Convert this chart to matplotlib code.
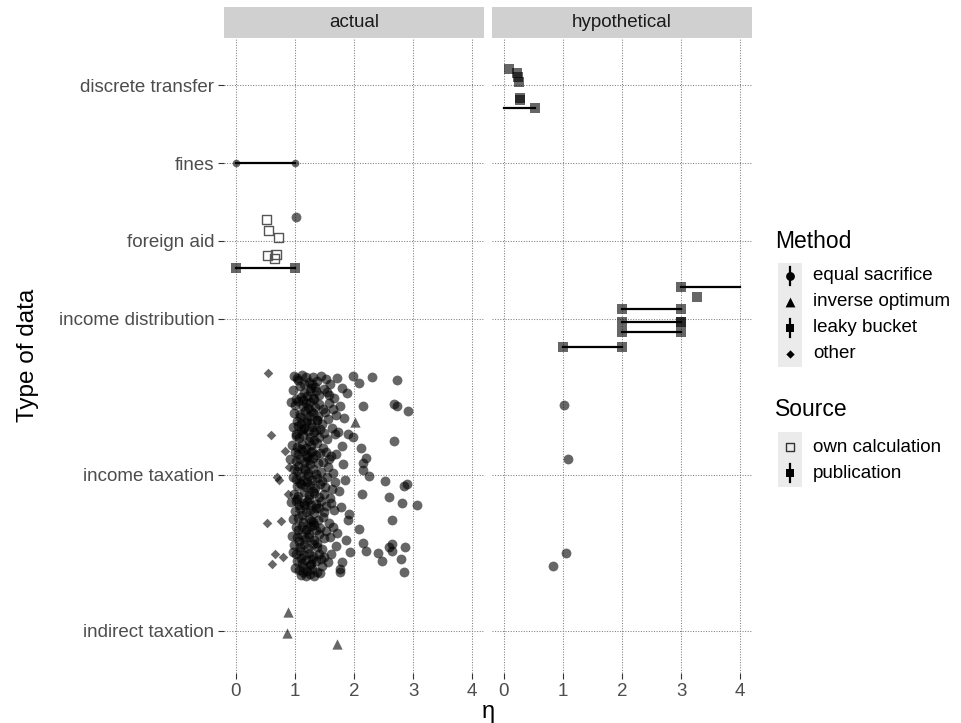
import numpy as np
import matplotlib.pyplot as plt
from matplotlib.patches import Rectangle

plt.rcParams['font.family'] = ['Liberation Sans', 'DejaVu Sans']

# y axis: categories placed on a numeric row scale (gaps as in the original)
categories = ['discrete transfer', 'fines', 'foreign aid', 'income distribution',
              'income taxation', 'indirect taxation']
cat_pos = [1, 2, 3, 4, 6, 8]
eta_ticks = [0, 1, 2, 3, 4]
panels = ['actual', 'hypothetical']

# actual / income taxation / equal sacrifice : dense core (read band by band)
core_eta = [
    0.98, 1.04, 1.12, 1.19, 1.23, 1.31, 1.38, 1.44, 1.52, 1.60, 1.71, 1.80, 0.96, 1.08,
    1.15, 1.27, 1.35, 1.49, 1.57, 1.66, 1.02, 1.10, 1.21, 1.33, 1.41, 1.55, 1.88, 1.29,
    0.93, 1.00, 1.06, 1.13, 1.18, 1.26, 1.34, 1.40, 1.47, 1.58, 1.64, 1.76, 0.99, 1.09,
    1.17, 1.24, 1.30, 1.39, 1.51, 1.69, 1.03, 1.11, 1.20, 1.28, 1.37, 1.45, 1.56, 1.83,
    0.97, 1.05, 1.10, 1.16, 1.22, 1.29, 1.36, 1.43, 1.50, 1.62, 1.73, 1.01, 1.07, 1.14,
    1.25, 1.33, 1.41, 1.54, 1.67, 1.90, 0.95, 1.03, 1.12, 1.19, 1.27, 1.38, 1.47, 1.79,
    1.00, 1.06, 1.13, 1.21, 1.28, 1.35, 1.42, 1.53, 1.61, 1.70, 0.92, 1.02, 1.09, 1.17,
    1.24, 1.31, 1.39, 1.48, 1.58, 1.82, 0.98, 1.04, 1.15, 1.22, 1.30, 1.44, 1.56, 1.65,
    0.96, 1.01, 1.08, 1.14, 1.22, 1.29, 1.37, 1.45, 1.55, 1.68, 1.85, 1.03, 1.11, 1.19,
    1.26, 1.34, 1.42, 1.51, 1.63, 0.99, 1.06, 1.16, 1.24, 1.32, 1.40, 1.49, 1.59, 1.74,
    0.94, 1.02, 1.07, 1.15, 1.21, 1.28, 1.36, 1.44, 1.52, 1.61, 1.78, 1.00, 1.09, 1.18,
    1.25, 1.33, 1.41, 1.50, 1.66, 1.92, 0.97, 1.05, 1.13, 1.23, 1.31, 1.39, 1.47, 1.57,
    1.01, 1.06, 1.12, 1.20, 1.27, 1.35, 1.43, 1.53, 1.64, 1.72, 0.95, 1.03, 1.10, 1.17,
    1.24, 1.32, 1.40, 1.49, 1.59, 1.86, 0.99, 1.08, 1.15, 1.22, 1.30, 1.38, 1.46, 1.70,
    0.97, 1.02, 1.09, 1.16, 1.24, 1.31, 1.40, 1.50, 1.61, 1.04, 1.12, 1.19, 1.27, 1.35,
    1.44, 1.56, 1.00, 1.07, 1.14, 1.21, 1.29, 1.37, 1.46, 1.10, 1.18, 1.26, 1.33, 1.42,
    1.05, 1.16, 1.25, 1.34, 1.13, 1.22, 1.31, 1.08, 1.19, 1.28, 1.37, 1.02, 1.14, 1.23,
    1.33, 1.11, 1.20, 1.29, 1.06, 1.17, 1.26, 1.36, 1.09, 1.21, 1.30, 1.04, 1.15, 1.24,
    1.35, 1.12, 1.27, 1.18, 1.32, 1.07, 1.23, 1.38, 1.10, 1.25, 1.14, 1.29,
]
core_y = [
    4.73, 4.76, 4.72, 4.75, 4.81, 4.74, 4.79, 4.73, 4.77, 4.84, 4.76, 4.88, 4.91, 4.86,
    4.95, 4.89, 4.93, 4.90, 4.98, 5.01, 5.02, 5.00, 4.99, 5.03, 4.97, 4.94, 4.95, 4.84,
    5.07, 5.10, 5.05, 5.12, 5.08, 5.06, 5.13, 5.09, 5.15, 5.08, 5.16, 5.11, 5.20, 5.22,
    5.18, 5.25, 5.21, 5.24, 5.19, 5.23, 5.31, 5.34, 5.29, 5.33, 5.30, 5.35, 5.28, 5.27,
    5.39, 5.37, 5.42, 5.40, 5.44, 5.38, 5.43, 5.41, 5.46, 5.40, 5.45, 5.50, 5.53, 5.49,
    5.52, 5.55, 5.51, 5.54, 5.48, 5.47, 5.61, 5.64, 5.60, 5.66, 5.62, 5.59, 5.65, 5.63,
    5.70, 5.73, 5.69, 5.74, 5.71, 5.75, 5.72, 5.70, 5.76, 5.73, 5.80, 5.82, 5.79, 5.84,
    5.81, 5.78, 5.85, 5.83, 5.80, 5.86, 5.92, 5.95, 5.91, 5.97, 5.93, 5.96, 5.90, 5.98,
    6.03, 6.05, 6.01, 6.07, 6.02, 6.06, 6.04, 6.08, 6.03, 6.09, 6.06, 6.14, 6.12, 6.16,
    6.13, 6.17, 6.11, 6.15, 6.18, 6.24, 6.27, 6.22, 6.26, 6.23, 6.28, 6.25, 6.30, 6.21,
    6.35, 6.33, 6.38, 6.36, 6.34, 6.39, 6.37, 6.34, 6.40, 6.36, 6.41, 6.46, 6.44, 6.48,
    6.45, 6.49, 6.43, 6.47, 6.45, 6.50, 6.57, 6.55, 6.60, 6.56, 6.61, 6.58, 6.54, 6.62,
    6.67, 6.70, 6.65, 6.69, 6.66, 6.71, 6.68, 6.72, 6.67, 6.74, 6.78, 6.80, 6.77, 6.82,
    6.79, 6.83, 6.76, 6.81, 6.79, 6.84, 6.90, 6.93, 6.88, 6.94, 6.89, 6.92, 6.95, 6.91,
    6.99, 7.02, 6.98, 7.03, 7.00, 7.04, 7.01, 7.05, 7.02, 7.10, 7.13, 7.09, 7.14, 7.11,
    7.08, 7.12, 7.19, 7.22, 7.18, 7.23, 7.20, 7.24, 7.17, 7.28, 7.30, 7.27, 7.29, 7.26,
    4.78, 4.84, 4.92, 4.87, 5.04, 5.14, 5.01, 5.26, 5.32, 5.18, 5.29, 5.47, 5.41, 5.57,
    5.45, 5.67, 5.77, 5.69, 5.88, 5.94, 5.86, 5.99, 6.10, 6.09, 6.20, 6.31, 6.39, 6.31,
    6.42, 6.52, 6.59, 6.71, 6.64, 6.85, 6.76, 6.87, 7.07, 7.16, 7.25, 7.08,
]

# actual / income taxation / equal sacrifice : outer points
es_eta = [1.98, 2.09, 2.31, 2.72, 2.15, 2.67, 2.72, 2.91, 1.99, 2.67, 2.11, 2.21,
          2.16, 2.16, 2.26, 2.53, 2.89, 2.84, 2.13, 2.60, 2.82, 3.07, 2.64, 2.09,
          1.89, 2.16, 2.20, 2.65, 2.60, 2.65, 2.87, 2.40, 2.48, 2.79, 2.84, 1.93,
          1.79, 1.76, 1.77]
es_y = [4.73, 4.82, 4.74, 4.78, 5.12, 5.09, 5.12, 5.18, 5.51, 5.56, 5.65, 5.78,
        5.85, 5.94, 6.02, 6.08, 6.12, 6.14, 6.24, 6.28, 6.36, 6.38, 6.58, 6.69,
        6.58, 6.87, 6.97, 6.88, 6.92, 6.97, 6.92, 7.00, 7.10, 7.08, 7.24, 6.99,
        7.12, 7.21, 7.24]

# actual / income taxation / other
oth_eta = [0.54, 0.59, 0.83, 0.90, 0.69, 0.73, 0.88, 0.52, 0.76, 0.66, 0.79, 0.62]
oth_y = [4.69, 5.49, 5.69, 5.90, 6.03, 6.06, 6.24, 6.62, 6.59, 7.01, 7.05, 7.14]

# actual / inverse optimum (income + indirect taxation)
io_eta = [2.01, 0.88, 0.86, 1.71]
io_y = [5.32, 7.76, 8.03, 8.17]

# actual / foreign aid
fa_es_eta = [1.01]
fa_es_y = [2.69]
own_eta = [0.52, 0.56, 0.73, 0.54, 0.68, 0.66]
own_y = [2.73, 2.87, 2.95, 3.18, 3.17, 3.22]

# ranges: (panel, low, high, y, shape, draw low end, draw high end)
ranges = [
    ('actual', 0.0, 1.0, 2.00, 'o', True, True),
    ('actual', 0.0, 1.0, 3.35, 's', True, True),
    ('hypothetical', 0.0, 0.52, 1.29, 's', False, True),
    ('hypothetical', 3.0, 4.0, 3.59, 's', True, False),
    ('hypothetical', 2.0, 3.0, 3.87, 's', True, True),
    ('hypothetical', 2.0, 3.0, 4.04, 's', True, True),
    ('hypothetical', 2.0, 3.0, 4.17, 's', True, True),
    ('hypothetical', 1.0, 2.0, 4.36, 's', True, True),
]

# hypothetical / leaky bucket points
lb_eta = [0.08, 0.22, 0.24, 0.25, 0.27, 0.27, 3.27, 3.0]
lb_y = [0.79, 0.85, 0.90, 0.96, 1.17, 1.19, 3.72, 4.04]

# hypothetical / income taxation / equal sacrifice
hes_eta = [1.01, 1.08, 1.06, 0.84]
hes_y = [5.10, 5.79, 7.00, 7.17]

fig = plt.figure(figsize=(9.61, 7.23), dpi=100)
W, H = 961, 723
top, bot = 38, 673
axes = [fig.add_axes([224 / W, 1 - bot / H, 260 / W, (bot - top) / H]),
        fig.add_axes([492 / W, 1 - bot / H, 260 / W, (bot - top) / H])]

ptc = 'black'
al = 0.6
for ax, name in zip(axes, panels):
    ax.set_xlim(-0.2, 4.2)
    ax.set_ylim(8.54, 0.397)
    ax.set_xticks(eta_ticks)
    ax.set_yticks(cat_pos)
    ax.grid(True, linestyle=(0, (1, 1.5)), color='#7f7f7f', linewidth=0.75)
    ax.set_axisbelow(True)
    for s in ax.spines.values():
        s.set_visible(False)
    ax.tick_params(length=4, width=0.8, color='#333333', labelsize=13.5,
                   labelcolor='#4d4d4d', pad=3)
    ax.add_patch(Rectangle((0, 1), 1, 31 / (bot - top), transform=ax.transAxes,
                           facecolor='#d0d0d0', edgecolor='none', clip_on=False))
    ax.text(0.5, 1 + 15.5 / (bot - top), name, transform=ax.transAxes,
            ha='center', va='center', fontsize=13.5, color='#1a1a1a')
    for r in ranges:
        if r[0] != name:
            continue
        ax.plot([r[1], r[2]], [r[3], r[3]], color='black', lw=1.6, zorder=3)
        ends = [v for v, f in zip([r[1], r[2]], [r[5], r[6]]) if f]
        sz = 30 if r[4] == 'o' else 45
        ax.scatter(ends, [r[3]] * len(ends), marker=r[4], s=sz, color=ptc,
                   alpha=al, linewidths=0, zorder=4)

a0, a1 = axes
a0.scatter(core_eta, core_y, marker='o', s=50, color=ptc, alpha=al, linewidths=0, zorder=4)
a0.scatter(es_eta, es_y, marker='o', s=50, color=ptc, alpha=al, linewidths=0, zorder=4)
a0.scatter(fa_es_eta, fa_es_y, marker='o', s=50, color=ptc, alpha=al, linewidths=0, zorder=4)
a0.scatter(oth_eta, oth_y, marker='D', s=24, color=ptc, alpha=al, linewidths=0, zorder=4)
a0.scatter(io_eta, io_y, marker='^', s=55, color=ptc, alpha=al, linewidths=0, zorder=4)
a0.scatter(own_eta, own_y, marker='s', s=42, facecolors='none', edgecolors='#555555',
           linewidths=1.0, zorder=4)
a1.scatter(lb_eta, lb_y, marker='s', s=45, color=ptc, alpha=al, linewidths=0, zorder=4)
a1.scatter(hes_eta, hes_y, marker='o', s=50, color=ptc, alpha=al, linewidths=0, zorder=4)

a0.set_yticklabels(categories)
a1.set_yticklabels([])
a1.tick_params(axis='y', length=0)
a0.set_ylabel('Type of data', fontsize=17.5, color='black', labelpad=14)
fig.text(488 / W, 1 - 712 / H, 'η', ha='center', va='center', fontsize=17)

# legend drawn in pixel space
lax = fig.add_axes([0, 0, 1, 1])
lax.set_xlim(0, W)
lax.set_ylim(H, 0)
lax.axis('off')
lax.text(775, 242, 'Method', fontsize=16.5, va='center', ha='left')
lax.add_patch(Rectangle((778, 263), 24, 104, facecolor='#ebebeb', edgecolor='none'))
meth_labels = ['equal sacrifice', 'inverse optimum', 'leaky bucket', 'other']
meth_marks = [('o', 40, True), ('^', 50, False), ('s', 40, True), ('D', 18, False)]
for i, (lab, (m, s, vline)) in enumerate(zip(meth_labels, meth_marks)):
    yy = 276 + 26 * i
    if vline:
        lax.plot([790, 790], [yy - 9, yy + 9], color='black', lw=1.6)
    lax.scatter([790], [yy], marker=m, s=s, color='black', linewidths=0)
    lax.text(813, yy, lab, fontsize=13.5, va='center', ha='left', color='black')

lax.text(775, 410, 'Source', fontsize=16.5, va='center', ha='left')
lax.add_patch(Rectangle((778, 432), 24, 55, facecolor='#ebebeb', edgecolor='none'))
lax.scatter([790], [447], marker='s', s=30, facecolors='none', edgecolors='#333333',
            linewidths=1.0)
lax.text(813, 447, 'own calculation', fontsize=13.5, va='center', ha='left')
lax.plot([790, 790], [464, 482], color='black', lw=1.6)
lax.scatter([790], [473], marker='s', s=40, color='black', linewidths=0)
lax.text(813, 473, 'publication', fontsize=13.5, va='center', ha='left')

fig.savefig('out.png', dpi=100)
